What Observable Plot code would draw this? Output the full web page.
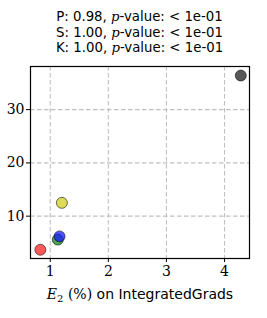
<!DOCTYPE html>
<html><head><meta charset="utf-8">
<script src="https://cdn.jsdelivr.net/npm/d3@7"></script>
<script src="https://cdn.jsdelivr.net/npm/@observablehq/plot@0.6"></script>
<style>
body{margin:0;background:#fff;}
#wrap{position:relative;width:267px;height:318px;}
#title{position:absolute;left:30px;width:219px;top:9px;text-align:center;font-family:"DejaVu Sans",sans-serif;font-size:13.3px;line-height:15.5px;color:#000;}
#title i{font-family:"DejaVu Serif",serif;}
#chart{position:absolute;left:0;top:0;}
#chart svg g[aria-label$="tick label"], #chart svg g[aria-label$="tick label"] text{font-family:"DejaVu Serif","Liberation Serif",serif !important;}
</style></head>
<body><div id="wrap"><div id="chart"></div><div id="title"></div></div>
<script>
const titleLines = ["P: 0.98, <i>p</i>-value: &lt; 1e-01","S: 1.00, <i>p</i>-value: &lt; 1e-01","K: 1.00, <i>p</i>-value: &lt; 1e-01"];
const xValues = [0.83, 1.13, 1.16, 1.20, 4.28];
const yValues = [3.7, 5.6, 6.2, 12.5, 36.4];
const colors = ["#ff2020", "#108a10", "#1a1aff", "#d0d020", "#202020"];
const xTicks = [1, 2, 3, 4];
const yTicks = [10, 20, 30];
const xLabel = "E₂ (%) on IntegratedGrads";

document.getElementById("title").innerHTML = titleLines.join("<br>");
const data = xValues.map((x, i) => ({x, y: yValues[i], c: colors[i]}));
const serif = "'DejaVu Serif', 'Liberation Serif', serif";
const plot = Plot.plot({
  width: 267, height: 318,
  marginTop: 66, marginLeft: 30, marginRight: 18, marginBottom: 60,
  style: {fontFamily: serif, fontSize: "13px", color: "#000", background: "#fff"},
  x: {domain: [0.66, 4.43], label: null},
  y: {domain: [2.05, 38.1], label: null},
  marks: [
    Plot.gridX(xTicks, {stroke: "#c0c0c0", strokeOpacity: 1, strokeDasharray: "4.5,2.5", strokeWidth: 1.1}),
    Plot.gridY(yTicks, {stroke: "#c0c0c0", strokeOpacity: 1, strokeDasharray: "4.5,2.5", strokeWidth: 1.1}),
    Plot.axisX(xTicks, {tickSize: 4, tickPadding: 4, fontSize: 14, fontFamily: serif, tickFormat: d => d, label: null}),
    Plot.axisY(yTicks, {tickSize: 4, tickPadding: 2, fontSize: 14, fontFamily: serif, tickFormat: d => d, label: null}),
    Plot.dot(data, {x: "x", y: "y", fill: "c", fillOpacity: 0.75, stroke: "#000", strokeOpacity: 0.7, strokeWidth: 0.8, r: 5.5}),
    Plot.frame({stroke: "#000", strokeWidth: 1.2}),
    Plot.text([xLabel], {frameAnchor: "bottom", dy: 40, text: d => d, fontSize: 14, fontFamily: "'DejaVu Sans', sans-serif", className: "xlab"})
  ]
});
document.getElementById("chart").appendChild(plot);
d3.select(plot).selectAll(".xlab text").each(function() {
  const t = d3.select(this);
  const s = t.text();
  t.text(null);
  t.append("tspan").attr("font-family", serif).attr("font-style", "italic").text("E");
  t.append("tspan").attr("font-family", serif).attr("font-size", 10).attr("dy", 3).text("2");
  t.append("tspan").attr("font-family", serif).attr("dy", -3).text(" (%)");
  t.append("tspan").text(s.slice(s.indexOf(")") + 1));
});
</script></body></html>
